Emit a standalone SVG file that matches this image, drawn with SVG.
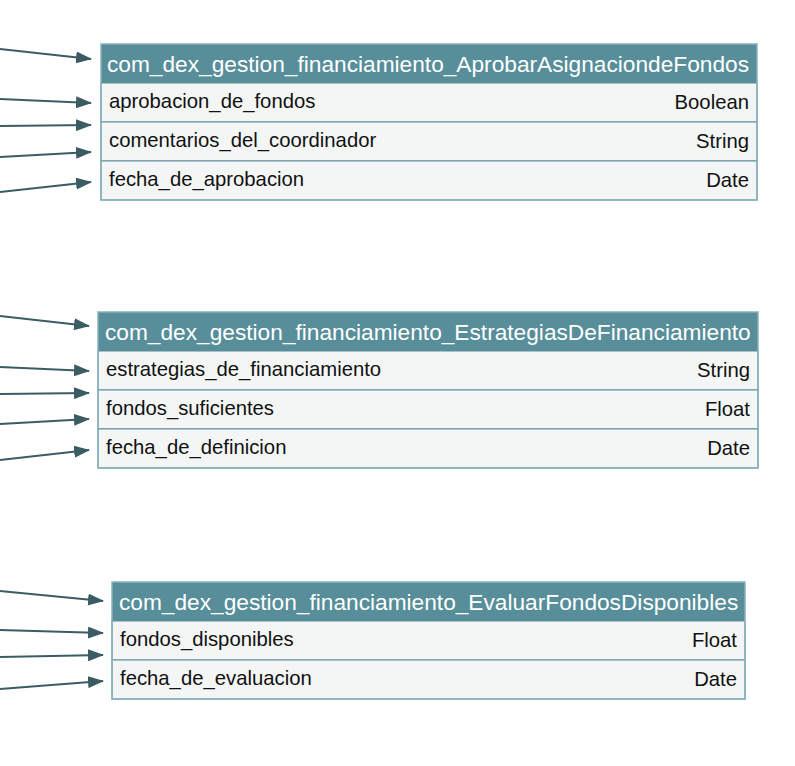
<svg xmlns="http://www.w3.org/2000/svg" width="795" height="766" viewBox="0 0 795 766">
<defs>
<marker id="ah" markerWidth="16" markerHeight="12" refX="15" refY="6" orient="auto" markerUnits="userSpaceOnUse">
<path d="M0,0 L16,6 L0,12 Z" fill="#3b5c63"/>
</marker>
<style>
.hdr{fill:#578e9a;}
.row{fill:#f4f6f5;stroke:#5a8d98;stroke-width:1;}
.frame{fill:none;stroke:#86b2bb;stroke-width:1.5;}
.ht{font-family:"Liberation Sans",Arial,sans-serif;font-size:22.7px;fill:#ffffff;}
.ft{font-family:"Liberation Sans",Arial,sans-serif;font-size:20.3px;fill:#111111;}
.tt{font-family:"Liberation Sans",Arial,sans-serif;font-size:20.3px;fill:#111111;text-anchor:end;}
.edge{fill:none;stroke:#3b5c63;stroke-width:2;marker-end:url(#ah);}
</style>
</defs>
<rect width="795" height="766" fill="#ffffff"/>
<g id="connectors">
<path class="edge" d="M0,49 L91,59"/>
<path class="edge" d="M0,99 L91,103"/>
<path class="edge" d="M0,126 L91,125"/>
<path class="edge" d="M0,157 L91,152"/>
<path class="edge" d="M0,192 L91,182"/>
<path class="edge" d="M0,316 L89,326"/>
<path class="edge" d="M0,367 L89,371"/>
<path class="edge" d="M0,394 L89,393"/>
<path class="edge" d="M0,424 L89,419"/>
<path class="edge" d="M0,460 L89,450"/>
<path class="edge" d="M0,591 L103,601"/>
<path class="edge" d="M0,630 L103,633"/>
<path class="edge" d="M0,657 L103,655"/>
<path class="edge" d="M0,689 L103,681"/>
</g>
<g id="AprobarAsignaciondeFondos">
<rect class="hdr" x="101" y="44" width="656" height="39"/>
<rect class="row" x="101" y="83" width="656" height="39"/>
<rect class="row" x="101" y="122" width="656" height="39"/>
<rect class="row" x="101" y="161" width="656" height="39"/>
<rect class="frame" x="101" y="44" width="656" height="156"/>
<text class="ht" x="107" y="72">com_dex_gestion_financiamiento_AprobarAsignaciondeFondos</text>
<text class="ft" x="109" y="108">aprobacion_de_fondos</text>
<text class="tt" x="749" y="109">Boolean</text>
<text class="ft" x="109" y="147">comentarios_del_coordinador</text>
<text class="tt" x="749" y="148">String</text>
<text class="ft" x="109" y="186">fecha_de_aprobacion</text>
<text class="tt" x="749" y="187">Date</text>
</g>
<g id="EstrategiasDeFinanciamiento">
<rect class="hdr" x="98" y="312" width="660" height="39"/>
<rect class="row" x="98" y="351" width="660" height="39"/>
<rect class="row" x="98" y="390" width="660" height="39"/>
<rect class="row" x="98" y="429" width="660" height="39"/>
<rect class="frame" x="98" y="312" width="660" height="156"/>
<text class="ht" x="105" y="340">com_dex_gestion_financiamiento_EstrategiasDeFinanciamiento</text>
<text class="ft" x="106" y="376">estrategias_de_financiamiento</text>
<text class="tt" x="750" y="377">String</text>
<text class="ft" x="106" y="415">fondos_suficientes</text>
<text class="tt" x="750" y="416">Float</text>
<text class="ft" x="106" y="454">fecha_de_definicion</text>
<text class="tt" x="750" y="455">Date</text>
</g>
<g id="EvaluarFondosDisponibles">
<rect class="hdr" x="112" y="582" width="633" height="39"/>
<rect class="row" x="112" y="621" width="633" height="39"/>
<rect class="row" x="112" y="660" width="633" height="39"/>
<rect class="frame" x="112" y="582" width="633" height="117"/>
<text class="ht" x="119" y="610">com_dex_gestion_financiamiento_EvaluarFondosDisponibles</text>
<text class="ft" x="120" y="646">fondos_disponibles</text>
<text class="tt" x="737" y="647">Float</text>
<text class="ft" x="120" y="685">fecha_de_evaluacion</text>
<text class="tt" x="737" y="686">Date</text>
</g>
</svg>
